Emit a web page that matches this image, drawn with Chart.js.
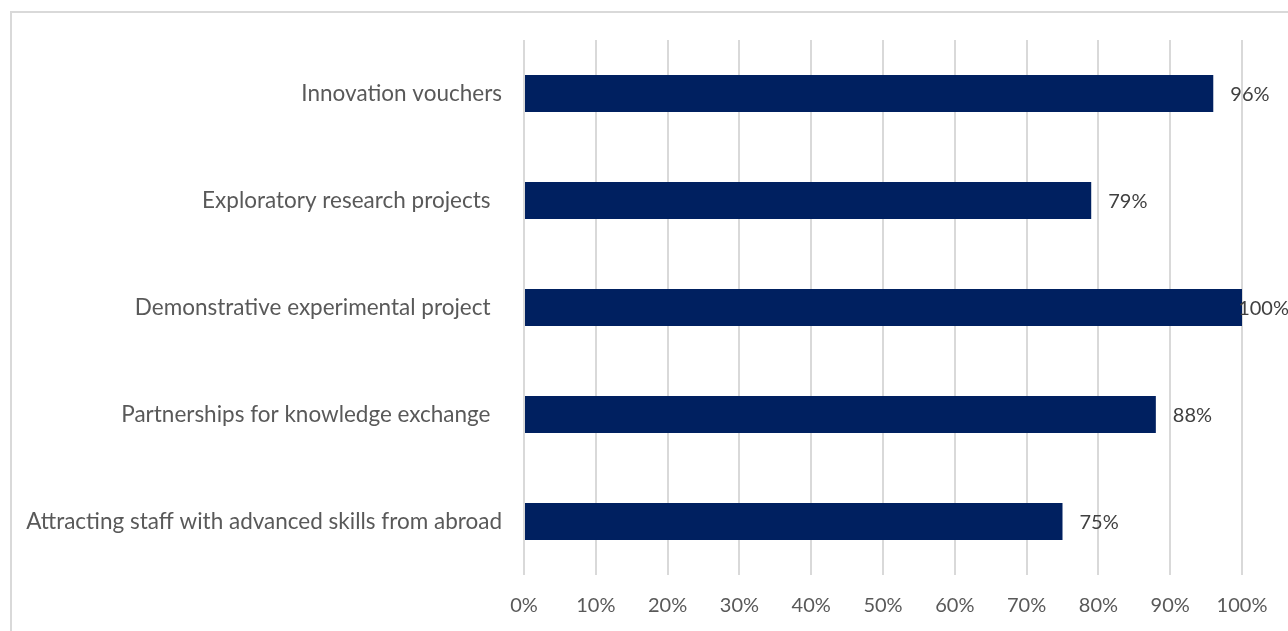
<!DOCTYPE html>
<html>
<head>
<meta charset="utf-8">
<script src="https://cdn.jsdelivr.net/npm/chart.js@4"></script>
<style>
    html, body { margin: 0; padding: 0; background: #ffffff; overflow: hidden; }
    #wrap { position: relative; width: 1288px; height: 631px; }
</style>
</head>
<body>
<div id="wrap"><canvas id="chart"></canvas></div>
<script>
'use strict';

const CATEGORIES = [
    'Innovation vouchers',
    'Exploratory research projects  ',
    'Demonstrative experimental project  ',
    'Partnerships for knowledge exchange  ',
    'Attracting staff with advanced skills from abroad'
];
const SHARES = [96, 79, 100, 88, 75];
const X_TICKS = [0, 10, 20, 30, 40, 50, 60, 70, 80, 90, 100];

const BAR = '#002060';
const GRID = '#d9d9d9';
const TEXT = '#595959';
const LABEL = '#404040';
const FONT = 'Lato, "Open Sans", sans-serif';

// outer frame, partly running off the canvas on the right and bottom
const frame = {
    id: 'frame',
    beforeDraw(chart) {
        let ctx = chart.ctx;
        ctx.save();
        ctx.strokeStyle = GRID;
        ctx.lineWidth = 2;
        ctx.strokeRect(11, 12, chart.width + 20, chart.height + 20);
        ctx.restore();
    }
};

// value labels to the right of each bar, pulled back inside when they would overflow
const valueLabels = {
    id: 'valueLabels',
    afterDatasetsDraw(chart) {
        let ctx = chart.ctx;
        let meta = chart.getDatasetMeta(0);
        ctx.save();
        ctx.font = '20px ' + FONT;
        ctx.fillStyle = LABEL;
        ctx.textBaseline = 'middle';
        meta.data.forEach((bar, i) => {
            let text = SHARES[i] + '%';
            let w = ctx.measureText(text).width;
            let x = Math.min(bar.x + 17, chart.width - w + 1);
            ctx.fillText(text, x, bar.y + 1);
        });
        ctx.restore();
    }
};

new Chart(document.getElementById('chart'), {
    type: 'bar',
    data: {
        labels: CATEGORIES,
        datasets: [{
            data: SHARES,
            backgroundColor: BAR,
            barPercentage: 0.346,
            categoryPercentage: 1
        }]
    },
    options: {
        indexAxis: 'y',
        responsive: true,
        maintainAspectRatio: false,
        animation: false,
        layout: { padding: { top: 40, right: 46, bottom: 0, left: 0 } },
        plugins: { legend: { display: false }, tooltip: { enabled: false } },
        scales: {
            x: {
                min: 0,
                max: 100,
                afterBuildTicks: axis => { axis.ticks = X_TICKS.map(v => ({ value: v })); },
                afterFit: axis => { axis.height = 56; },
                grid: { color: GRID, lineWidth: 2, drawTicks: false },
                border: { display: false },
                ticks: {
                    color: TEXT,
                    padding: 19,
                    font: { family: FONT, size: 20 },
                    callback: v => v + '%'
                }
            },
            y: {
                afterFit: axis => { axis.width = 524; },
                grid: { display: false },
                border: { display: false },
                ticks: {
                    color: TEXT,
                    padding: 14,
                    font: { family: FONT, size: 22.5 }
                }
            }
        }
    },
    plugins: [frame, valueLabels]
});
</script>
</body>
</html>
